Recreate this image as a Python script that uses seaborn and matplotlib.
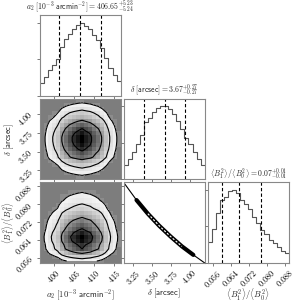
import numpy as np
import pandas as pd
import matplotlib.pyplot as plt
import seaborn as sns
from matplotlib.colors import LinearSegmentedColormap

# parameter ranges shown on the axes
a2_range = (396.5, 416.75)
delta_range = (3.13, 4.20)
ratio_range = (0.0538, 0.0898)

# 20-bin marginal histograms (relative heights)
a2_hist = [0.17, 0.25, 0.35, 0.42, 0.50, 0.67, 0.77, 0.85, 0.91, 0.96,
           1.00, 0.95, 0.91, 0.83, 0.76, 0.65, 0.51, 0.38, 0.29, 0.20]
delta_hist = [0.20, 0.28, 0.37, 0.48, 0.60, 0.78, 0.84, 0.92, 0.97, 1.00,
              1.00, 0.96, 0.89, 0.80, 0.69, 0.56, 0.48, 0.37, 0.28, 0.20]
ratio_hist = [0.28, 0.46, 0.68, 0.86, 0.90, 0.98, 1.00, 0.95, 0.86, 0.80,
              0.73, 0.63, 0.55, 0.45, 0.39, 0.31, 0.27, 0.22, 0.16, 0.13]

# 16/50/84 percent quantiles
a2_q = [401.41, 406.65, 411.88]
delta_q = [3.40, 3.67, 3.94]
ratio_q = [0.0603, 0.0678, 0.0774]

# delta vs ratio relation (degenerate panel)
curve_delta = [3.13, 3.30, 3.45, 3.60, 3.75, 3.90, 4.05, 4.20]
curve_ratio = [0.0898, 0.0819, 0.0758, 0.0704, 0.0656, 0.0612, 0.0574, 0.0538]

a2_ticks = [400, 405, 410, 415]
a2_ticklabels = ['$400$', '$405$', '$410$', '$415$']
delta_ticks = [3.25, 3.50, 3.75, 4.00]
delta_ticklabels = ['$3.25$', '$3.50$', '$3.75$', '$4.00$']
ratio_ticks = [0.056, 0.064, 0.072, 0.080, 0.088]
ratio_ticklabels = ['$0.056$', '$0.064$', '$0.072$', '$0.080$', '$0.088$']

labels = [r'$a_2\ [10^{-3}\ \mathsf{arcmin}^{-2}]$',
          r'$\delta\ [\mathsf{arcsec}]$',
          r'$\langle B_1^2\rangle/\langle B_0^2\rangle$']
titles = [r'$a_2\ [10^{-3}\ \mathsf{arcmin}^{-2}] = 406.65^{+5.23}_{-5.24}$',
          r'$\delta\ [\mathsf{arcsec}] = 3.67^{+0.27}_{-0.27}$',
          r'$\langle B_1^2\rangle/\langle B_0^2\rangle = 0.07^{+0.01}_{-0.01}$']

sns.set_style('ticks')
plt.rcParams['mathtext.fontset'] = 'cm'
plt.rcParams['xtick.major.size'] = 2.5
plt.rcParams['ytick.major.size'] = 2.5
plt.rcParams['xtick.major.width'] = 0.6
plt.rcParams['ytick.major.width'] = 0.6
plt.rcParams['xtick.color'] = '#666666'
plt.rcParams['ytick.color'] = '#666666'
plt.rcParams['xtick.labelcolor'] = 'black'
plt.rcParams['ytick.labelcolor'] = 'black'

LINE = '#555555'
SPINE = '#888888'
FS = 5.8

ranges = [a2_range, delta_range, ratio_range]
hists = [a2_hist, delta_hist, ratio_hist]
quants = [a2_q, delta_q, ratio_q]
ticks = [a2_ticks, delta_ticks, ratio_ticks]
ticklabels = [a2_ticklabels, delta_ticklabels, ratio_ticklabels]


def edges_of(rng, n):
    return np.linspace(rng[0], rng[1], n + 1)


def mass_levels(Z, fracs):
    flat = np.sort(Z.ravel())[::-1]
    cum = np.cumsum(flat)
    cum /= cum[-1]
    lv = []
    for f in fracs:
        lv.append(flat[cum <= f][-1])
    return sorted(lv)


density_cmap = LinearSegmentedColormap.from_list('dens', [(1, 1, 1, 0), (0, 0, 0, 1)])

fig, axes = plt.subplots(3, 3, figsize=(3.04, 3.04), dpi=100)
fig.subplots_adjust(left=0.13, right=0.95, bottom=0.135, top=0.95,
                    wspace=0.037, hspace=0.037)

for i in range(3):
    for j in range(3):
        ax = axes[i, j]
        if j > i:
            ax.set_axis_off()
            continue
        for s in ax.spines.values():
            s.set_color(SPINE)
            s.set_linewidth(0.8)
        if i == j:
            e = edges_of(ranges[i], len(hists[i]))
            df = pd.DataFrame({'v': 0.5 * (e[1:] + e[:-1]), 'w': hists[i]})
            sns.histplot(data=df, x='v', weights='w', bins=len(hists[i]),
                         binrange=ranges[i], element='step', fill=False,
                         color=LINE, linewidth=0.8, ax=ax)
            for q in quants[i]:
                ax.axvline(q, color='k', ls='--', lw=0.8, dashes=(3, 2))
            ax.set_ylim(0, 1.1)
            ax.set_yticks([0, 0.5, 1.0])
            ax.set_yticklabels([])
            ax.set_ylabel('')
            ax.set_title(titles[i], fontsize=5.6, pad=3)
        elif i == 2 and j == 1:
            ax.set_ylim(ranges[i])
            ax.plot(curve_delta, curve_ratio, color='k', lw=0.8)
            ax.plot(curve_delta[1:7], curve_ratio[1:7], color='k', lw=3.0,
                    solid_capstyle='round')
            ax.plot(curve_delta[2:6], curve_ratio[2:6], color='white', lw=0.8,
                    dashes=(2, 1.5))
        else:
            ax.set_ylim(ranges[i])
            ax.set_facecolor('#7d7d7d')
            xe = edges_of(ranges[j], len(hists[j]))
            ye = edges_of(ranges[i], len(hists[i]))
            xc = 0.5 * (xe[1:] + xe[:-1])
            yc = 0.5 * (ye[1:] + ye[:-1])
            Z = np.outer(hists[i], hists[j])
            lv = mass_levels(Z, [0.118, 0.393, 0.675, 0.865])
            ax.contourf(xc, yc, Z, [lv[0], Z.max() + 1], colors=['white'])
            ax.pcolormesh(xe, ye, np.ma.masked_less(Z, lv[0] * 0.8),
                          cmap=density_cmap, vmin=Z.min(), vmax=Z.max())
            ax.contour(xc, yc, Z, lv, colors='k', linewidths=0.8)
        ax.set_xlim(ranges[j])
        ax.set_xticks(ticks[j])
        if i == 2:
            ax.set_xticklabels(ticklabels[j], fontsize=FS, rotation=45)
            ax.set_xlabel(labels[j], fontsize=6.2)
            ax.xaxis.set_label_coords(0.5, -0.3)
        else:
            ax.set_xticklabels([])
            ax.set_xlabel('')
        if i != j:
            ax.set_yticks(ticks[i])
            if j == 0:
                ax.set_yticklabels(ticklabels[i], fontsize=FS, rotation=45)
                ax.set_ylabel(labels[i], fontsize=6.0)
                ax.yaxis.set_label_coords(-0.29, 0.5)
            else:
                ax.set_yticklabels([])
        ax.tick_params(pad=1)

fig.savefig('out.png', dpi=100)
